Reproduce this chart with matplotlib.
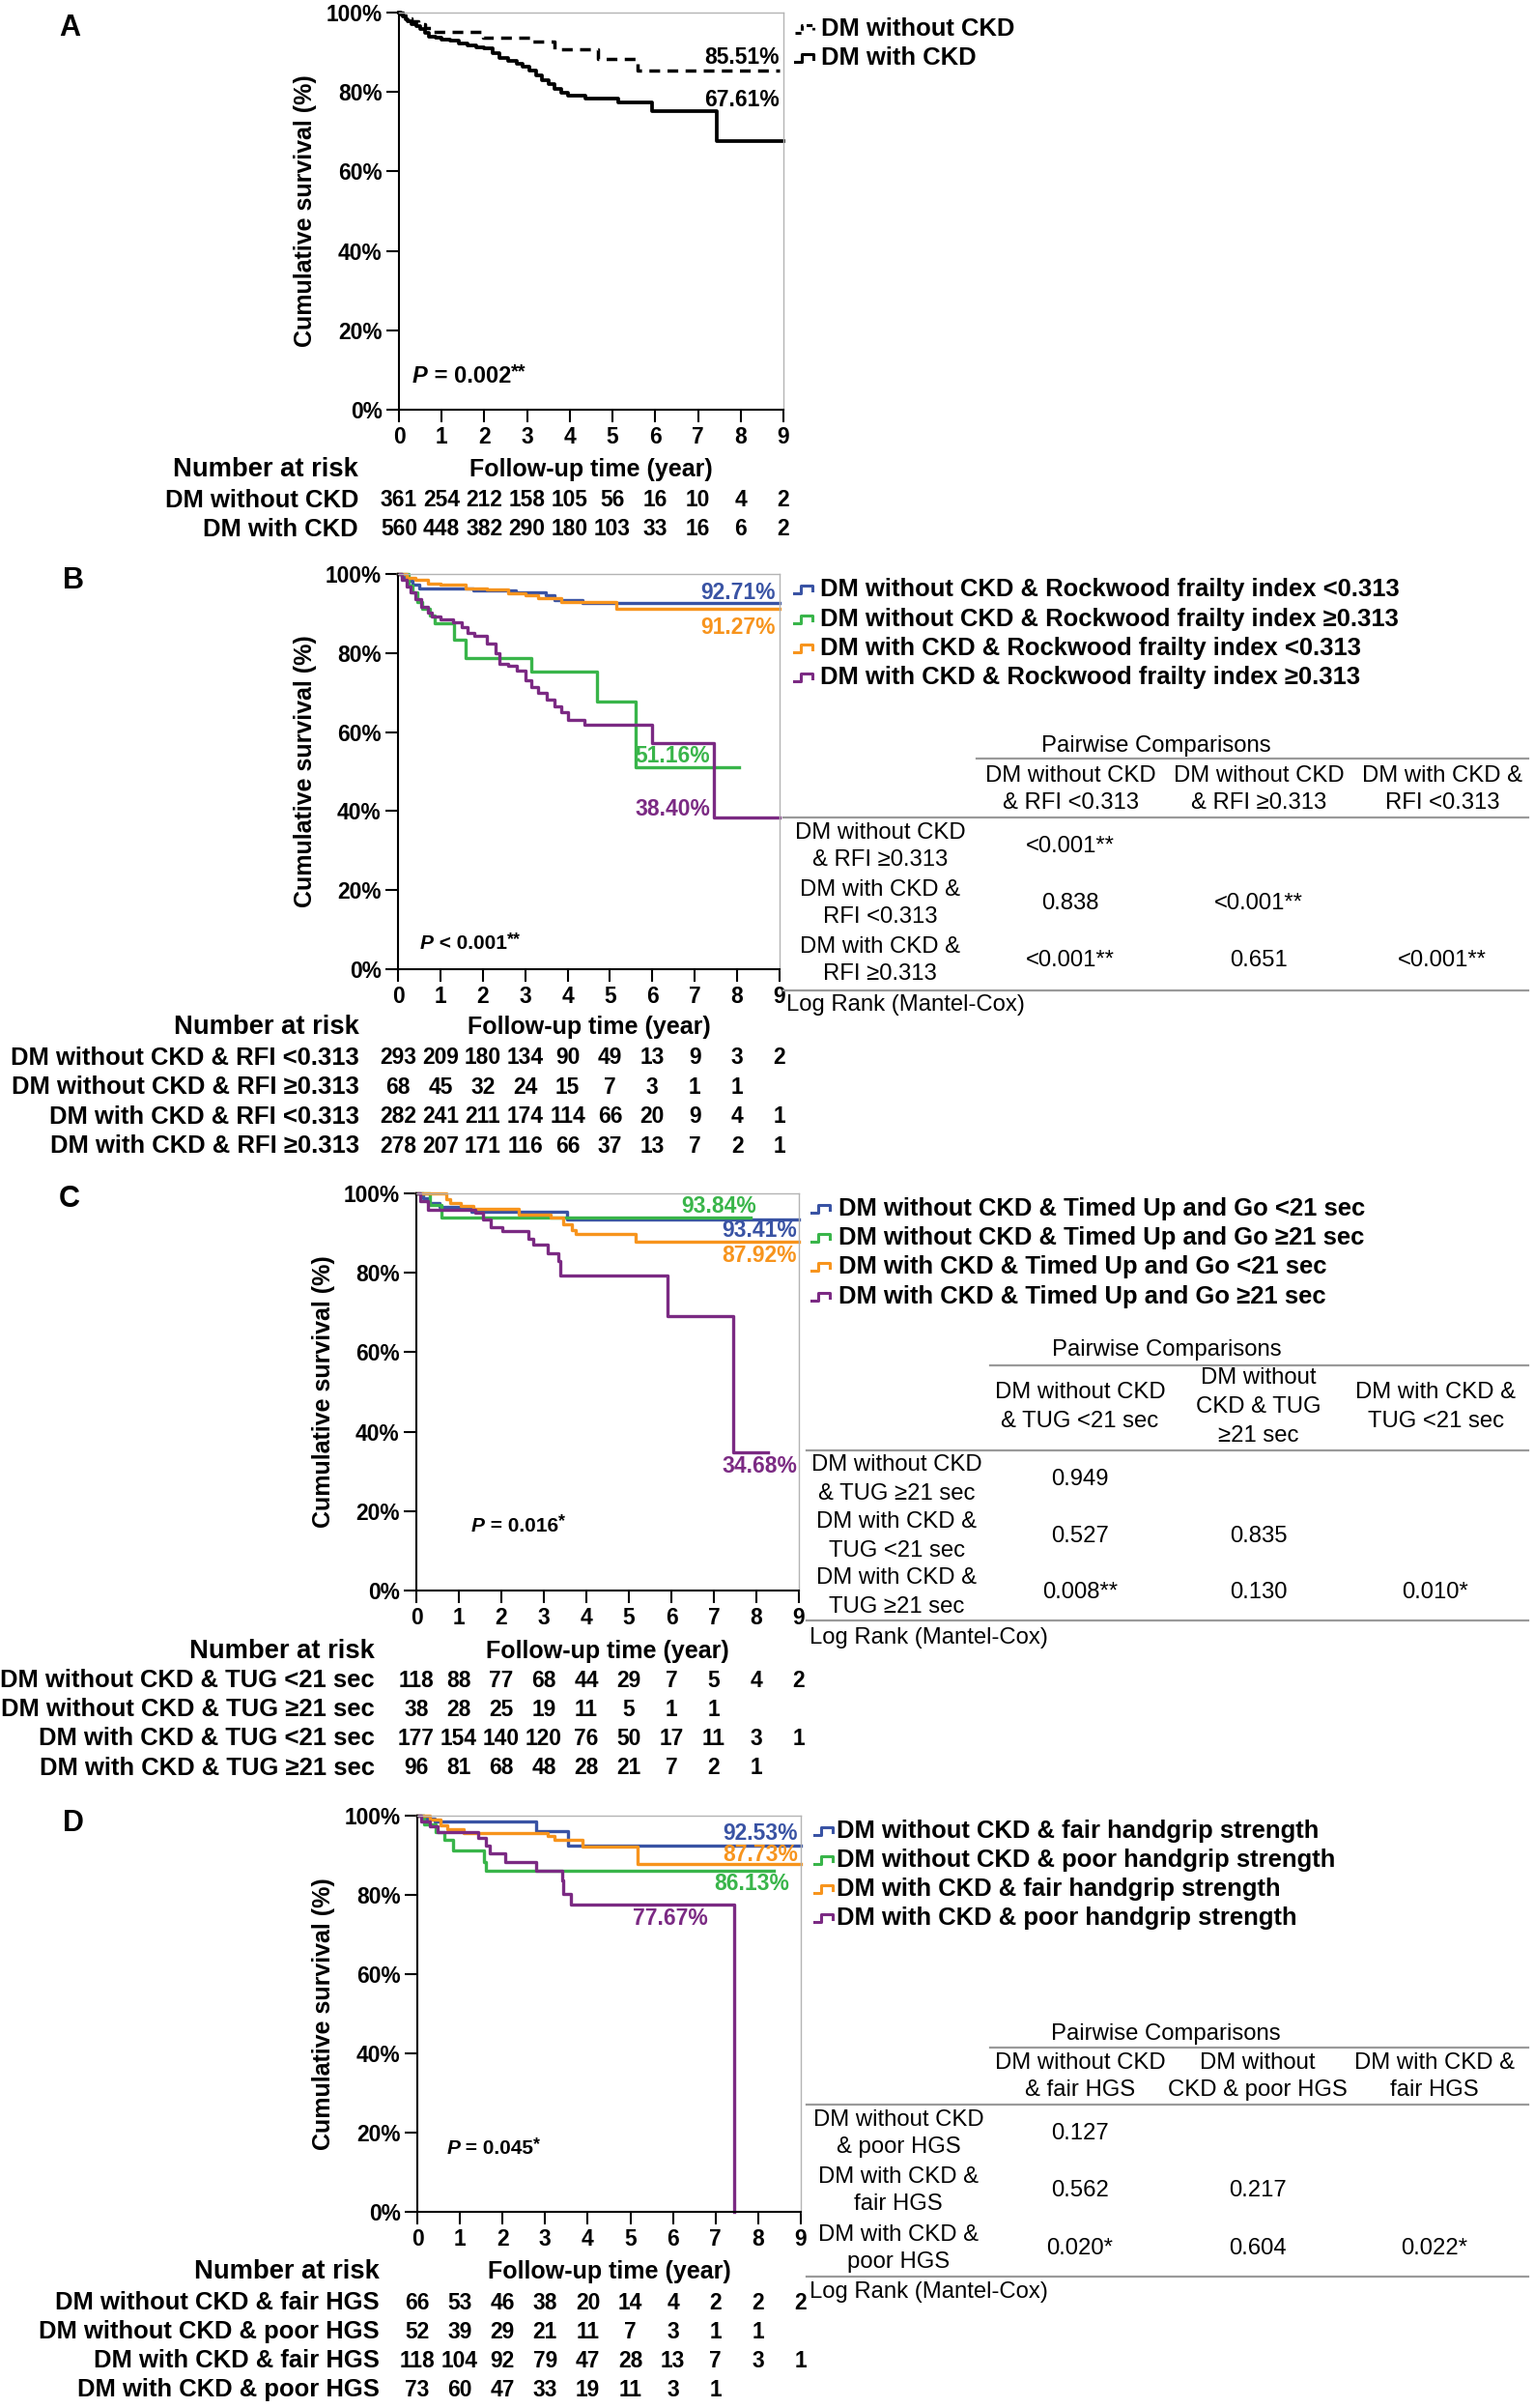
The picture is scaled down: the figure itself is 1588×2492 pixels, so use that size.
import matplotlib
matplotlib.use("Agg")
import matplotlib.pyplot as plt
from matplotlib.lines import Line2D
from matplotlib.transforms import blended_transform_factory
from matplotlib import font_manager

W, H = 1588, 2492

installed = {f.name for f in font_manager.fontManager.ttflist}
if "Liberation Sans Narrow" in installed:
    NARROW, K = "Liberation Sans Narrow", 1.0
else:
    NARROW, K = "Liberation Sans", 0.82
REG = "Liberation Sans"
NF = [NARROW, "DejaVu Sans"]
RF = [REG, "DejaVu Sans"]

BLUE, GREEN, ORANGE, PURPLE = "#3953a4", "#39b54a", "#f7941d", "#7b2a83"
GRAY = "#9a9a9a"

years = list(range(10))

# ---------------- data: panel A ----------------
a_legend = ["DM without CKD", "DM with CKD"]
a_no_t = [0, 0.1, 0.2, 0.3, 0.45, 0.6, 0.79, 1.96, 3.13, 3.63, 4.65, 5.59, 8.91]
a_no_s = [100, 99.2, 98.5, 97.8, 97.0, 96.2, 95.1, 93.6, 92.6, 90.7, 88.3, 85.51, 85.51]
a_ckd_t = [0, 0.05, 0.1, 0.15, 0.2, 0.3, 0.4, 0.5, 0.6, 0.7, 0.85, 1.0, 1.2, 1.4, 1.6,
           1.8, 2.0, 2.2, 2.35, 2.55, 2.75, 2.9, 3.05, 3.2, 3.35, 3.5, 3.65, 3.8, 3.95,
           4.37, 5.13, 5.93, 7.44, 9.0]
a_ckd_s = [100, 99.5, 99.0, 98.4, 97.8, 97.2, 96.5, 95.8, 95.0, 94.0, 93.6, 93.3, 92.9,
           92.3, 91.7, 91.2, 90.9, 89.8, 88.6, 87.9, 87.2, 86.4, 85.3, 84.2, 83.0, 82.0,
           80.8, 79.8, 79.0, 78.3, 77.3, 75.2, 67.61, 67.61]
a_end = ["85.51%", "67.61%"]
a_risk_labels = ["DM without CKD", "DM with CKD"]
a_risk = [[361, 254, 212, 158, 105, 56, 16, 10, 4, 2],
          [560, 448, 382, 290, 180, 103, 33, 16, 6, 2]]

# ---------------- data: panel B (Rockwood frailty index) ----------------
b_legend = ["DM without CKD & Rockwood frailty index <0.313",
            "DM without CKD & Rockwood frailty index \u22650.313",
            "DM with CKD & Rockwood frailty index <0.313",
            "DM with CKD & Rockwood frailty index \u22650.313"]
b_t = [[0, 0.1, 0.2, 0.35, 0.5, 1.78, 2.77, 3.49, 3.68, 4.36, 9.0],
       [0, 0.25, 0.35, 0.45, 0.57, 0.75, 0.87, 1.33, 1.6, 3.15, 4.7, 5.6, 8.05],
       [0, 0.2, 0.4, 0.7, 1.0, 1.6, 2.1, 2.6, 3.0, 3.3, 3.85, 5.15, 9.0],
       [0, 0.1, 0.2, 0.3, 0.4, 0.55, 0.7, 0.8, 1.0, 1.3, 1.5, 1.65, 1.8, 2.1, 2.3, 2.4,
        2.6, 2.8, 3.0, 3.15, 3.3, 3.5, 3.7, 3.85, 4.0, 4.4, 6.0, 7.45, 9.0]]
b_s = [[100, 99.3, 98.4, 97.3, 96.3, 95.8, 95.4, 94.5, 93.5, 92.71, 92.71],
       [100, 97.0, 95.3, 93.0, 91.2, 89.5, 87.5, 83.4, 78.8, 75.3, 67.8, 51.16, 51.16],
       [100, 99.0, 98.5, 97.6, 97.2, 96.4, 96.0, 95.0, 94.7, 93.8, 92.8, 91.27, 91.27],
       [100, 98.5, 96.8, 95.3, 93.6, 91.8, 90.2, 89.2, 88.5, 87.7, 86.5, 85.2, 84.3,
        82.5, 80.0, 77.3, 76.8, 75.5, 73.0, 71.5, 70.0, 68.3, 66.5, 65.0, 63.2, 61.8,
        57.2, 38.40, 38.40]]
b_end = ["92.71%", "91.27%", "51.16%", "38.40%"]
b_risk_labels = ["DM without CKD & RFI <0.313", "DM without CKD & RFI \u22650.313",
                 "DM with CKD & RFI <0.313", "DM with CKD & RFI \u22650.313"]
b_risk = [[293, 209, 180, 134, 90, 49, 13, 9, 3, 2],
          [68, 45, 32, 24, 15, 7, 3, 1, 1],
          [282, 241, 211, 174, 114, 66, 20, 9, 4, 1],
          [278, 207, 171, 116, 66, 37, 13, 7, 2, 1]]
b_cols = [["DM without CKD", "& RFI <0.313"], ["DM without CKD", "& RFI \u22650.313"],
          ["DM with CKD &", "RFI <0.313"]]
b_rows = [["DM without CKD", "& RFI \u22650.313"], ["DM with CKD &", "RFI <0.313"],
          ["DM with CKD &", "RFI \u22650.313"]]
b_p = [["<0.001**", "", ""], ["0.838", "<0.001**", ""], ["<0.001**", "0.651", "<0.001**"]]

# ---------------- data: panel C (Timed Up and Go) ----------------
c_legend = ["DM without CKD & Timed Up and Go <21 sec",
            "DM without CKD & Timed Up and Go \u226521 sec",
            "DM with CKD & Timed Up and Go <21 sec",
            "DM with CKD & Timed Up and Go \u226521 sec"]
c_t = [[0, 0.15, 0.28, 0.55, 1.3, 3.54, 9.0],
       [0, 0.32, 0.6, 7.87],
       [0, 0.7, 0.8, 1.05, 1.35, 2.4, 3.15, 3.45, 3.65, 3.75, 5.16, 9.0],
       [0, 0.1, 0.28, 1.38, 1.57, 1.76, 2.02, 2.63, 2.74, 3.08, 3.35, 3.38, 5.92, 7.46, 8.28]]
c_s = [[100, 98.8, 97.6, 96.5, 95.3, 93.41, 93.41],
       [100, 97.2, 93.84, 93.84],
       [100, 98.6, 97.6, 96.8, 96.0, 94.7, 93.9, 92.3, 90.7, 89.7, 87.92, 87.92],
       [100, 98.0, 95.9, 95.1, 93.5, 91.6, 90.5, 88.6, 87.0, 85.0, 83.0, 79.3, 69.2,
        34.68, 34.68]]
c_end = ["93.41%", "93.84%", "87.92%", "34.68%"]
c_risk_labels = ["DM without CKD & TUG <21 sec", "DM without CKD & TUG \u226521 sec",
                 "DM with CKD & TUG <21 sec", "DM with CKD & TUG \u226521 sec"]
c_risk = [[118, 88, 77, 68, 44, 29, 7, 5, 4, 2],
          [38, 28, 25, 19, 11, 5, 1, 1],
          [177, 154, 140, 120, 76, 50, 17, 11, 3, 1],
          [96, 81, 68, 48, 28, 21, 7, 2, 1]]
c_cols = [["DM without CKD", "& TUG <21 sec"], ["DM without", "CKD & TUG", "\u226521 sec"],
          ["DM with CKD &", "TUG <21 sec"]]
c_rows = [["DM without CKD", "& TUG \u226521 sec"], ["DM with CKD &", "TUG <21 sec"],
          ["DM with CKD &", "TUG \u226521 sec"]]
c_p = [["0.949", "", ""], ["0.527", "0.835", ""], ["0.008**", "0.130", "0.010*"]]

# ---------------- data: panel D (handgrip strength) ----------------
d_legend = ["DM without CKD & fair handgrip strength",
            "DM without CKD & poor handgrip strength",
            "DM with CKD & fair handgrip strength",
            "DM with CKD & poor handgrip strength"]
d_t = [[0, 0.15, 0.4, 2.78, 3.54, 9.0],
       [0, 0.15, 0.44, 0.63, 0.85, 1.57, 1.61, 8.36],
       [0, 0.3, 0.55, 0.7, 1.08, 3.05, 3.23, 3.88, 5.16, 9.0],
       [0, 0.1, 0.29, 0.48, 1.42, 1.61, 1.69, 2.06, 2.78, 3.39, 3.42, 3.61, 7.43, 7.43]]
d_s = [[100, 99.3, 98.5, 96.2, 92.53, 92.53],
       [100, 97.8, 95.8, 93.9, 91.3, 88.4, 86.13, 86.13],
       [100, 99.0, 97.6, 96.6, 95.6, 94.95, 93.9, 92.1, 87.73, 87.73],
       [100, 98.5, 97.4, 95.8, 94.4, 92.5, 90.5, 88.4, 86.2, 83.6, 80.3, 77.67, 0, 0]]
d_end = ["92.53%", "86.13%", "87.73%", "77.67%"]
d_risk_labels = ["DM without CKD & fair HGS", "DM without CKD & poor HGS",
                 "DM with CKD & fair HGS", "DM with CKD & poor HGS"]
d_risk = [[66, 53, 46, 38, 20, 14, 4, 2, 2, 2],
          [52, 39, 29, 21, 11, 7, 3, 1, 1],
          [118, 104, 92, 79, 47, 28, 13, 7, 3, 1],
          [73, 60, 47, 33, 19, 11, 3, 1]]
d_cols = [["DM without CKD", "& fair HGS"], ["DM without", "CKD & poor HGS"],
          ["DM with CKD &", "fair HGS"]]
d_rows = [["DM without CKD", "& poor HGS"], ["DM with CKD &", "fair HGS"],
          ["DM with CKD &", "poor HGS"]]
d_p = [["0.127", "", ""], ["0.562", "0.217", ""], ["0.020*", "0.604", "0.022*"]]

COLORS4 = [BLUE, GREEN, ORANGE, PURPLE]

fig = plt.figure(figsize=(W / 100, H / 100), dpi=100)


def ptext(x, y, s, size, weight="bold", family=None, ha="center", va="center",
          color="black", rotation=0, style="normal"):
    return fig.text(x / W, 1 - y / H, s, fontsize=size, fontweight=weight,
                    family=family or NF, ha=ha, va=va, color=color,
                    rotation=rotation, fontstyle=style)


def pline(xs, ys, **kw):
    fig.add_artist(Line2D([x / W for x in xs], [1 - y / H for y in ys],
                          transform=fig.transFigure, **kw))


def make_axes(x0, x1, y0, y1):
    ax = fig.add_axes([x0 / W, 1 - y1 / H, (x1 - x0) / W, (y1 - y0) / H])
    ax.set_facecolor("none")
    ax.set_xlim(0, 9)
    ax.set_ylim(0, 100)
    ax.set_xticks(years)
    ax.set_xticklabels([str(v) for v in years], fontsize=20 * K,
                       fontweight="bold", family=NF)
    ax.set_yticks([0, 20, 40, 60, 80, 100])
    ax.set_yticklabels([f"{v}%" for v in [0, 20, 40, 60, 80, 100]],
                       fontsize=20 * K, fontweight="bold", family=NF)
    ax.tick_params(direction="out", length=9.5, width=1.5, pad=3)
    for side in ("left", "bottom"):
        ax.spines[side].set_linewidth(1.5)
    for side in ("top", "right"):
        ax.spines[side].set_color("#b4b4b4")
        ax.spines[side].set_linewidth(1.0)
    return ax


def p_value(ax, xf, yf, rest, stars, size):
    t1 = ax.text(xf, yf, "P", transform=ax.transAxes, fontsize=size,
                 fontweight="bold", fontstyle="italic", family=RF,
                 ha="left", va="center")
    t2 = ax.annotate(rest, xy=(1, 0), xycoords=t1, fontsize=size,
                     fontweight="bold", family=RF, ha="left", va="bottom")
    ax.annotate(stars, xy=(1, 0.3), xycoords=t2, fontsize=size * 0.85,
                fontweight="bold", family=RF, ha="left", va="bottom")


def risk_table(ax, labels, rows, label_x, head_y, row_ys):
    ptext(label_x, head_y, "Number at risk", 24 * K, ha="right")
    x_mid = (ax.get_position().x0 + ax.get_position().x1) / 2 * W
    ptext(x_mid, head_y, "Follow-up time (year)", 22 * K)
    tr = blended_transform_factory(ax.transData, fig.transFigure)
    for lab, row, y in zip(labels, rows, row_ys):
        ptext(label_x, y, lab, 22.5 * K, ha="right")
        for x, n in zip(years, row):
            ax.text(x, 1 - y / H, str(n), transform=tr, ha="center", va="center",
                    fontsize=20 * K, fontweight="bold", family=NF)


def legend(sym_x, text_x, ys, texts, colors, styles):
    for y, s, c, ls in zip(ys, texts, colors, styles):
        xs = [sym_x, sym_x + 7, sym_x + 7, sym_x + 19, sym_x + 19]
        yy = [y + 4, y + 4, y - 4, y - 4, y + 1]
        pline(xs, yy, color=c, lw=2.2, linestyle=ls)
        ptext(text_x, y, s, 22.5 * K, ha="left")


def pair_table(title_xy, title_line, head_line, bottom_y, head_cy, col_x, gap,
               row_x, row_cys, cols, rows, vals, logrank_xy):
    ptext(title_xy[0], title_xy[1], "Pairwise Comparisons", 21 * K, weight="normal")
    pline([title_line[0], title_line[1]], [title_line[2]] * 2, color=GRAY, lw=1.6)
    pline([head_line[0], head_line[1]], [head_line[2]] * 2, color=GRAY, lw=1.6)
    pline([head_line[0], head_line[1]], [bottom_y] * 2, color=GRAY, lw=1.6)
    for cx, lines in zip(col_x, cols):
        n = len(lines)
        for i, s in enumerate(lines):
            ptext(cx, head_cy + (i - (n - 1) / 2) * gap, s, 21 * K, weight="normal")
    for cy, lines, vrow in zip(row_cys, rows, vals):
        for i, s in enumerate(lines):
            ptext(row_x, cy + (i - 0.5) * gap, s, 21 * K, weight="normal")
        for cx, v in zip(col_x, vrow):
            if v:
                ptext(cx, cy, v, 21 * K, weight="normal")
    ptext(logrank_xy[0], logrank_xy[1], "Log Rank (Mantel-Cox)", 21 * K,
          weight="normal", ha="left")


def end_labels(items):
    for s, x, y, ha, c in items:
        ptext(x, y, s, 16.5, family=RF, ha=ha, color=c)


# ================= Panel A =================
axA = make_axes(413, 811, 13, 424)
axA.step(a_no_t, a_no_s, where="post", color="black", lw=2.5,
         linestyle=(0, (3.2, 2.2)), clip_on=False)
axA.step(a_ckd_t, a_ckd_s, where="post", color="black", lw=2.7, clip_on=False)
p_value(axA, 0.035, 0.083, " = 0.002", "**", 17)
end_labels([(a_end[0], 807, 59, "right", "black"),
            (a_end[1], 807, 103, "right", "black")])
ptext(72, 29, "A", 22, family=RF)
ptext(316, 218, "Cumulative survival (%)", 22 * K, rotation=90)
legend(823, 850, [30, 60], a_legend, ["black", "black"], [(0, (2, 1.2)), "-"])
risk_table(axA, a_risk_labels, a_risk, 371, 486, [518, 548])

# ================= Panel B =================
axB = make_axes(412, 807, 594, 1003)
for t, s, c in zip(b_t, b_s, COLORS4):
    axB.step(t, s, where="post", color=c, lw=2.4, clip_on=False)
p_value(axB, 0.058, 0.064, " < 0.001", "**", 15)
end_labels([(b_end[0], 803, 613, "right", BLUE), (b_end[1], 803, 650, "right", ORANGE),
            (b_end[2], 657, 782, "left", GREEN), (b_end[3], 735, 838, "right", PURPLE)])
ptext(76, 601, "B", 22, family=RF)
ptext(316, 798, "Cumulative survival (%)", 22 * K, rotation=90)
legend(822, 849, [610, 641, 671, 701], b_legend, COLORS4, ["-"] * 4)
risk_table(axB, b_risk_labels, b_risk, 372, 1063, [1095, 1125, 1156, 1186])
pair_table((1197, 772), (1011, 1582, 785), (811, 1582, 846), 1025, 817,
           [1108, 1303, 1493], 28.5, 911, [876, 935, 994], b_cols, b_rows, b_p,
           (814, 1040))

# ================= Panel C =================
axC = make_axes(431, 827, 1235, 1646)
for t, s, c in zip(c_t, c_s, COLORS4):
    axC.step(t, s, where="post", color=c, lw=2.4, clip_on=False)
p_value(axC, 0.144, 0.163, " = 0.016", "*", 15)
end_labels([(c_end[1], 783, 1248, "right", GREEN), (c_end[0], 825, 1273, "right", BLUE),
            (c_end[2], 825, 1300, "right", ORANGE), (c_end[3], 825, 1518, "right", PURPLE)])
ptext(72, 1241, "C", 22, family=RF)
ptext(335, 1440, "Cumulative survival (%)", 22 * K, rotation=90)
legend(840, 868, [1251, 1281, 1311, 1342], c_legend, COLORS4, ["-"] * 4)
risk_table(axC, c_risk_labels, c_risk, 388, 1709, [1739, 1769, 1799, 1830])
pair_table((1208, 1397), (1025, 1582, 1413), (835, 1582, 1501), 1677, 1456,
           [1118, 1303, 1486], 29.5, 928, [1531, 1590, 1648], c_cols, c_rows, c_p,
           (838, 1695))

# ================= Panel D =================
axD = make_axes(432, 829, 1879, 2289)
for t, s, c in zip(d_t, d_s, COLORS4):
    axD.step(t, s, where="post", color=c, lw=2.4, clip_on=False)
p_value(axD, 0.076, 0.159, " = 0.045", "*", 15)
end_labels([(d_end[0], 826, 1897, "right", BLUE), (d_end[2], 826, 1920, "right", ORANGE),
            (d_end[1], 817, 1949, "right", GREEN), (d_end[3], 733, 1985, "right", PURPLE)])
ptext(76, 1887, "D", 22, family=RF)
ptext(335, 2084, "Cumulative survival (%)", 22 * K, rotation=90)
legend(843, 866, [1895, 1925, 1955, 1985], d_legend, COLORS4, ["-"] * 4)
risk_table(axD, d_risk_labels, d_risk, 393, 2351, [2383, 2413, 2443, 2473])
pair_table((1207, 2105), (1025, 1582, 2119), (835, 1582, 2178), 2356, 2149,
           [1118, 1302, 1485], 28.5, 930, [2208, 2267, 2327], d_cols, d_rows, d_p,
           (838, 2372))

fig.savefig("out.png", dpi=100, facecolor="white")
